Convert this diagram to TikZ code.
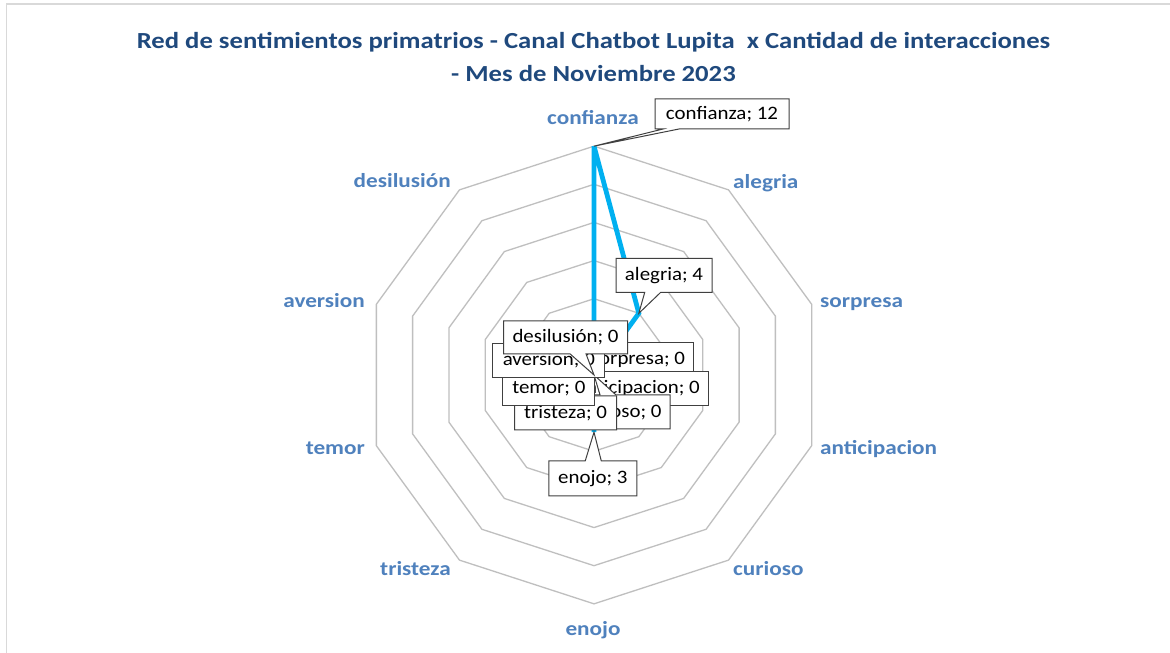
\documentclass[tikz,border=0pt]{standalone}
\usepackage{fontspec}
\setmainfont{Carlito}
\newfontfamily\ttl[FakeStretch=1.16]{Carlito}
\newfontfamily\vlf[FakeStretch=1.1]{Carlito}
\usetikzlibrary{shapes.callouts}
\definecolor{ttlblue}{HTML}{1F497D}
\definecolor{axblue}{HTML}{4F81BD}
\definecolor{gridgray}{HTML}{BFBFBF}
\definecolor{serie}{HTML}{00B0F0}
\definecolor{boxline}{HTML}{404040}
\definecolor{framegray}{HTML}{D9D9D9}
\begin{document}
\begin{tikzpicture}[x=1pt,y=1pt,
 gridline/.style={draw=gridgray, line width=1.3pt},
 serieline/.style={draw=serie, line width=4.8pt},
 axlabel/.style={font=\ttl\bfseries\fontsize{20}{24}\selectfont, text=axblue, inner sep=0pt},
 ttltext/.style={font=\ttl\bfseries\fontsize{23}{28}\selectfont, text=ttlblue, inner sep=0pt},
 valbox/.style={draw=boxline, line width=1pt, fill=white, font=\vlf\fontsize{19}{22}\selectfont, inner sep=0pt, minimum height=34pt},
 valrect/.style={valbox, rectangle},
 valcall/.style={valbox, rectangle callout, callout pointer width=16pt},
]
\useasboundingbox (0,0) rectangle (1170,653);
\fill[white] (0,0) rectangle (1170,653);
\draw[framegray, line width=1.5pt] (6.5,0) -- (6.5,649) -- (1170,649);

% title
\node[ttltext, anchor=base] (t1) at (593.5,604.7) {Red de sentimientos primatrios - Canal Chatbot Lupita\ \ x Cantidad de interacciones};
\node[ttltext, anchor=base] (t2) at (593.5,571.5) {- Mes de Noviembre 2023};

% grid
\coordinate (C) at (594,278);
\begin{scope}[shift={(594,278)}]
\foreach \k in {2,4,...,12}{
  \pgfmathsetmacro{\rr}{\k*19.07}
  \draw[gridline] (90:\rr) -- (54:\rr) -- (18:\rr) -- (-18:\rr) -- (-54:\rr) -- (-90:\rr) -- (-126:\rr) -- (-162:\rr) -- (162:\rr) -- (126:\rr) -- cycle;
}
\coordinate (P1) at (90:228.84);
\coordinate (P2) at (54:76.28);
\coordinate (P6) at (-90:57.21);
\end{scope}

% axis labels
\node[axlabel, anchor=base] (aConf) at (593,528) {confianza};
\node[axlabel, anchor=base west] (aAleg) at (733,464) {alegria};
\node[axlabel, anchor=base west] (aSorp) at (820,345) {sorpresa};
\node[axlabel, anchor=base west] (aAnt) at (820,198) {anticipacion};
\node[axlabel, anchor=base west] (aCur) at (733,77) {curioso};
\node[axlabel, anchor=base] (aEno) at (593,17) {enojo};
\node[axlabel, anchor=base east] (aTri) at (451,77) {tristeza};
\node[axlabel, anchor=base east] (aTem) at (365,198) {temor};
\node[axlabel, anchor=base east] (aAve) at (365,345) {aversion};
\node[axlabel, anchor=base east] (aDes) at (451,465) {desilusión};

% data series
\draw[serieline] (P1) -- (P2) -- (C) -- (P6) -- (C) -- (P1);

% value labels
\node[valcall, callout absolute pointer={(P1)}, minimum width=134pt, minimum height=30pt] (lConf) at (722,539) {confianza; 12};
\node[valcall, callout absolute pointer={(P2)}, minimum width=96pt] (lAleg) at (664,377.7) {alegria; 4};
\node[valrect, minimum width=110pt] (lSorp) at (638,293) {sorpresa; 0};
\node[valrect, minimum width=140pt] (lAnt) at (638,264.7) {anticipacion; 0};
\node[valcall, callout absolute pointer={(C)}, minimum width=100pt] (lCur) at (620,241) {curioso; 0};
\node[valcall, callout absolute pointer={(P6)}, minimum width=88pt, minimum height=35pt] (lEno) at (592.8,174.7) {enojo; 3};
\node[valcall, callout absolute pointer={(C)}, minimum width=102pt] (lTri) at (565.5,240.2) {tristeza; 0};
\node[valrect, minimum width=92pt] (lTem) at (548.8,264.3) {temor; 0};
\node[valrect, minimum width=112pt] (lAve) at (548.8,292.7) {aversion; 0};
\node[valcall, callout absolute pointer={(C)}, minimum width=124pt, minimum height=33pt] (lDes) at (565.5,315.7) {desilusión; 0};
\end{tikzpicture}
\end{document}
